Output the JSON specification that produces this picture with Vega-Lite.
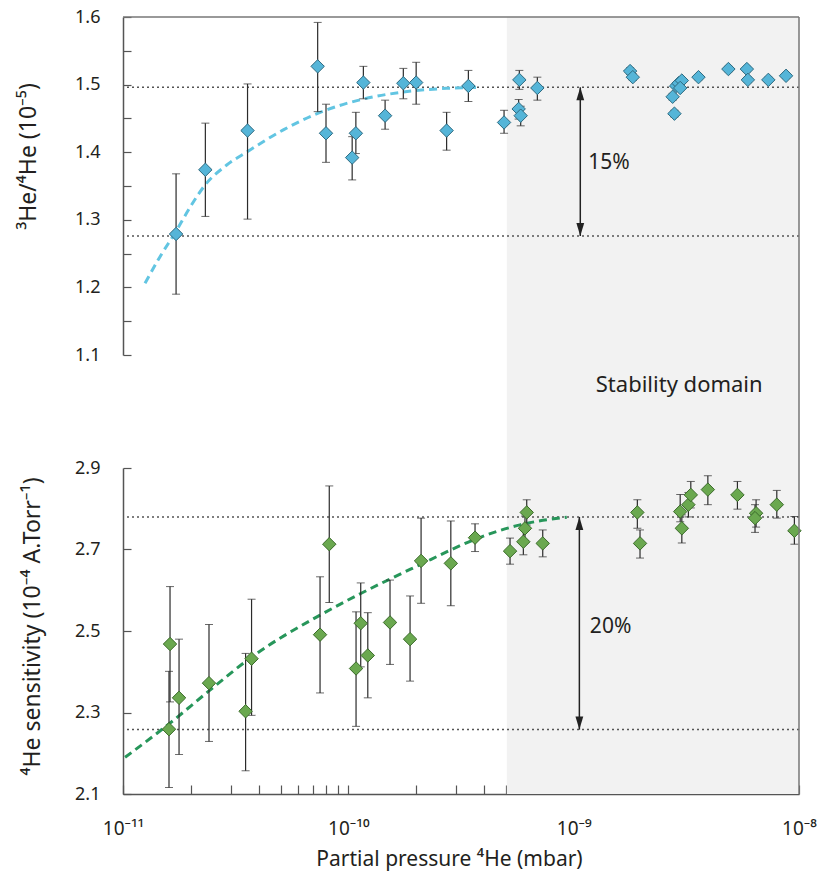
{
  "$schema": "https://vega.github.io/schema/vega-lite/v6.json",
  "width": 676,
  "height": 777,
  "autosize": "none",
  "padding": {"left": 123, "top": 17, "right": 28, "bottom": 93},
  "background": "white",
  "config": {
    "font": "Noto Sans",
    "view": {"stroke": null},
    "axis": {
      "grid": false,
      "labelFont": "Noto Sans",
      "titleFont": "Noto Sans",
      "labelColor": "#231f20",
      "titleColor": "#231f20",
      "titleFontWeight": "normal",
      "domainColor": "#555555",
      "tickColor": "#555555",
      "domainWidth": 1.5,
      "tickWidth": 1.2,
      "labelFontSize": 18,
      "titleFontSize": 23,
      "labelFlush": false,
      "labelOverlap": false
    }
  },
  "datasets": {
    "band": [{"from": 5.05e-10, "to": 1e-8}],
    "frameX": [{"p": 1e-8}],
    "frameY": [{"v": 1.6}],
    "topRef": [{"v": 1.496}, {"v": 1.276}],
    "botRef": [{"v": 2.78}, {"v": 2.258}],
    "topArrow": [{"p": 1.07e-9, "lo": 1.276, "hi": 1.496}],
    "botArrow": [{"p": 1.06e-9, "lo": 2.258, "hi": 2.78}],
    "topText": [{"p": 1.16e-9, "v": 1.384, "label": "15%"}, {"p": 2.94e-9, "v": 1.056, "label": "Stability domain"}],
    "botText": [{"p": 1.18e-9, "v": 2.509, "label": "20%"}],
    "topFit": [
      {"p": 1.252e-11, "v": 1.206}, {"p": 1.46e-11, "v": 1.2455}, {"p": 1.72e-11, "v": 1.283},
      {"p": 1.98e-11, "v": 1.318}, {"p": 2.32e-11, "v": 1.352}, {"p": 2.886e-11, "v": 1.381},
      {"p": 3.57e-11, "v": 1.401}, {"p": 5.145e-11, "v": 1.433}, {"p": 7.31e-11, "v": 1.4575},
      {"p": 1.166e-10, "v": 1.4787}, {"p": 1.754e-10, "v": 1.489}, {"p": 2.73e-10, "v": 1.4945},
      {"p": 3.84e-10, "v": 1.496}
    ],
    "botFit": [
      {"p": 1.021e-11, "v": 2.19}, {"p": 1.6e-11, "v": 2.272}, {"p": 2.408e-11, "v": 2.353},
      {"p": 3.72e-11, "v": 2.436}, {"p": 7.49e-11, "v": 2.539}, {"p": 1.135e-10, "v": 2.592},
      {"p": 1.531e-10, "v": 2.6275}, {"p": 2.103e-10, "v": 2.664}, {"p": 2.85e-10, "v": 2.699},
      {"p": 3.65e-10, "v": 2.725}, {"p": 5.78e-10, "v": 2.7604}, {"p": 9.32e-10, "v": 2.7794}
    ],
    "topPts": [
      {"p": 1.72e-11, "v": 1.279, "lo": 1.19, "hi": 1.368},
      {"p": 2.32e-11, "v": 1.374, "lo": 1.305, "hi": 1.443},
      {"p": 3.57e-11, "v": 1.432, "lo": 1.301, "hi": 1.501},
      {"p": 7.31e-11, "v": 1.527, "lo": 1.46, "hi": 1.592},
      {"p": 7.96e-11, "v": 1.428, "lo": 1.385, "hi": 1.471},
      {"p": 1.04e-10, "v": 1.392, "lo": 1.359, "hi": 1.423},
      {"p": 1.08e-10, "v": 1.428, "lo": 1.398, "hi": 1.459},
      {"p": 1.166e-10, "v": 1.503, "lo": 1.479, "hi": 1.527},
      {"p": 1.456e-10, "v": 1.454, "lo": 1.434, "hi": 1.477},
      {"p": 1.754e-10, "v": 1.502, "lo": 1.479, "hi": 1.524},
      {"p": 2.0e-10, "v": 1.503, "lo": 1.471, "hi": 1.533},
      {"p": 2.73e-10, "v": 1.432, "lo": 1.403, "hi": 1.459},
      {"p": 3.41e-10, "v": 1.498, "lo": 1.475, "hi": 1.521},
      {"p": 4.91e-10, "v": 1.444, "lo": 1.428, "hi": 1.462},
      {"p": 5.74e-10, "v": 1.507, "lo": 1.493, "hi": 1.521},
      {"p": 5.7e-10, "v": 1.464, "lo": 1.449, "hi": 1.478},
      {"p": 5.82e-10, "v": 1.454, "lo": 1.439, "hi": 1.468},
      {"p": 6.9e-10, "v": 1.495, "lo": 1.477, "hi": 1.511},
      {"p": 1.78e-9, "v": 1.52, "lo": 1.515, "hi": 1.525},
      {"p": 1.83e-9, "v": 1.511, "lo": 1.506, "hi": 1.516},
      {"p": 2.75e-9, "v": 1.482, "lo": 1.477, "hi": 1.487},
      {"p": 2.8e-9, "v": 1.457, "lo": 1.452, "hi": 1.462},
      {"p": 2.85e-9, "v": 1.498, "lo": 1.494, "hi": 1.502},
      {"p": 2.92e-9, "v": 1.502, "lo": 1.498, "hi": 1.506},
      {"p": 3.02e-9, "v": 1.506, "lo": 1.502, "hi": 1.51},
      {"p": 2.97e-9, "v": 1.495, "lo": 1.491, "hi": 1.499},
      {"p": 3.58e-9, "v": 1.511, "lo": 1.507, "hi": 1.515},
      {"p": 4.86e-9, "v": 1.523, "lo": 1.519, "hi": 1.527},
      {"p": 5.87e-9, "v": 1.523, "lo": 1.519, "hi": 1.527},
      {"p": 5.93e-9, "v": 1.507, "lo": 1.503, "hi": 1.511},
      {"p": 7.31e-9, "v": 1.507, "lo": 1.503, "hi": 1.511},
      {"p": 8.76e-9, "v": 1.513, "lo": 1.509, "hi": 1.517}
    ],
    "botPts": [
      {"p": 1.617e-11, "v": 2.468, "lo": 2.326, "hi": 2.609},
      {"p": 1.773e-11, "v": 2.336, "lo": 2.197, "hi": 2.48},
      {"p": 1.6e-11, "v": 2.259, "lo": 2.116, "hi": 2.401},
      {"p": 2.408e-11, "v": 2.372, "lo": 2.229, "hi": 2.516},
      {"p": 3.5e-11, "v": 2.303, "lo": 2.157, "hi": 2.445},
      {"p": 3.72e-11, "v": 2.432, "lo": 2.293, "hi": 2.578},
      {"p": 7.49e-11, "v": 2.491, "lo": 2.348, "hi": 2.633},
      {"p": 8.23e-11, "v": 2.713, "lo": 2.57, "hi": 2.856},
      {"p": 1.082e-10, "v": 2.408, "lo": 2.266, "hi": 2.547},
      {"p": 1.135e-10, "v": 2.519, "lo": 2.412, "hi": 2.618},
      {"p": 1.22e-10, "v": 2.44, "lo": 2.336, "hi": 2.545},
      {"p": 1.531e-10, "v": 2.521, "lo": 2.418, "hi": 2.625},
      {"p": 1.879e-10, "v": 2.48, "lo": 2.377, "hi": 2.586},
      {"p": 2.103e-10, "v": 2.672, "lo": 2.568, "hi": 2.777},
      {"p": 2.85e-10, "v": 2.666, "lo": 2.562, "hi": 2.77},
      {"p": 3.65e-10, "v": 2.729, "lo": 2.695, "hi": 2.763},
      {"p": 5.22e-10, "v": 2.696, "lo": 2.664, "hi": 2.728},
      {"p": 6.19e-10, "v": 2.791, "lo": 2.76, "hi": 2.822},
      {"p": 6.08e-10, "v": 2.752, "lo": 2.722, "hi": 2.782},
      {"p": 5.98e-10, "v": 2.719, "lo": 2.687, "hi": 2.75},
      {"p": 7.29e-10, "v": 2.715, "lo": 2.682, "hi": 2.748},
      {"p": 1.917e-9, "v": 2.791, "lo": 2.752, "hi": 2.822},
      {"p": 1.97e-9, "v": 2.715, "lo": 2.679, "hi": 2.748},
      {"p": 3.02e-9, "v": 2.752, "lo": 2.716, "hi": 2.785},
      {"p": 2.97e-9, "v": 2.793, "lo": 2.768, "hi": 2.835},
      {"p": 3.23e-9, "v": 2.81, "lo": 2.78, "hi": 2.84},
      {"p": 3.31e-9, "v": 2.834, "lo": 2.802, "hi": 2.867},
      {"p": 3.94e-9, "v": 2.847, "lo": 2.81, "hi": 2.881},
      {"p": 5.33e-9, "v": 2.834, "lo": 2.799, "hi": 2.867},
      {"p": 6.45e-9, "v": 2.789, "lo": 2.755, "hi": 2.822},
      {"p": 6.38e-9, "v": 2.777, "lo": 2.742, "hi": 2.81},
      {"p": 7.97e-9, "v": 2.81, "lo": 2.777, "hi": 2.845},
      {"p": 9.54e-9, "v": 2.746, "lo": 2.713, "hi": 2.781}
    ]
  },
  "layer": [
    {
      "data": {"name": "band"},
      "mark": {"type": "rect", "color": "#f2f2f2"},
      "encoding": {
        "x": {
          "field": "from", "type": "quantitative", "title": "Partial pressure ⁴He (mbar)",
          "scale": {"type": "log", "domain": [1e-11, 1e-8], "nice": false},
          "axis": {
            "orient": "bottom",
            "values": [1e-11, 2e-11, 3e-11, 4e-11, 5e-11, 6e-11, 7e-11, 8e-11, 9e-11, 1e-10, 2e-10, 3e-10, 4e-10, 5e-10, 6e-10, 7e-10, 8e-10, 9e-10, 1e-9, 2e-9, 3e-9, 4e-9, 5e-9, 6e-9, 7e-9, 8e-9, 9e-9, 1e-8],
            "labelExpr": "abs(log(datum.value)/LN10 - round(log(datum.value)/LN10)) < 0.01 ? (round(log(datum.value)/LN10) == -11 ? '10⁻¹¹' : round(log(datum.value)/LN10) == -10 ? '10⁻¹⁰' : round(log(datum.value)/LN10) == -9 ? '10⁻⁹' : '10⁻⁸') : ''",
            "tickSize": -9,
            "labelPadding": 34,
            "labelFontSize": 19,
            "title": "Partial pressure ⁴He (mbar)",
            "titleFontSize": 21,
            "titleX": 326,
            "titleY": 65,
            "titleBaseline": "middle",
            "titleAlign": "center"
          }
        },
        "x2": {"field": "to"}
      }
    },
    {
      "layer": [
        {
          "data": {"name": "topRef"},
          "mark": {"type": "rule", "color": "#555555", "strokeWidth": 1.5, "strokeDash": [2, 3]},
          "encoding": {
            "y": {"field": "v", "type": "quantitative", "title": "³He/⁴He (10⁻⁵)", "scale": {"domain": [1.1, 1.6], "range": [338, 0], "nice": false, "zero": false},
              "axis": {
                "orient": "left",
                "values": [1.1, 1.15, 1.2, 1.25, 1.3, 1.35, 1.4, 1.45, 1.5, 1.55, 1.6],
                "labelExpr": "round(datum.value*100) % 10 == 0 ? format(datum.value, '.1f') : ''",
                "tickSize": -8,
                "labelPadding": 31,
                "title": "³He/⁴He (10⁻⁵)",
                "titleX": -95,
                "titleY": 139,
                "titleAngle": -90,
                "titleBaseline": "middle",
                "titleAlign": "center"
              }
            }
          }
        },
        {
          "data": {"name": "frameY"},
          "mark": {"type": "rule", "color": "#777777", "strokeWidth": 1.5},
          "encoding": {"y": {"field": "v", "type": "quantitative", "title": "³He/⁴He (10⁻⁵)"}}
        },
        {
          "data": {"name": "topFit"},
          "mark": {"type": "line", "color": "#62c5e2", "strokeWidth": 3, "strokeDash": [8, 5], "interpolate": "monotone"},
          "encoding": {
            "x": {"field": "p", "type": "quantitative", "title": "Partial pressure ⁴He (mbar)"},
            "y": {"field": "v", "type": "quantitative", "title": "³He/⁴He (10⁻⁵)"}
          }
        },
        {
          "data": {"name": "topPts"},
          "mark": {"type": "errorbar", "ticks": {"size": 8, "color": "#2b2b2b", "strokeWidth": 1.2}, "rule": {"color": "#2b2b2b", "strokeWidth": 1.2}},
          "encoding": {
            "x": {"field": "p", "type": "quantitative", "title": "Partial pressure ⁴He (mbar)"},
            "y": {"field": "lo", "type": "quantitative", "title": "³He/⁴He (10⁻⁵)"},
            "y2": {"field": "hi"}
          }
        },
        {
          "data": {"name": "topPts"},
          "mark": {"type": "point", "shape": "diamond", "filled": true, "size": 180, "fill": "#55b5d8", "stroke": "#2e6a80", "strokeWidth": 1, "opacity": 1},
          "encoding": {
            "x": {"field": "p", "type": "quantitative", "title": "Partial pressure ⁴He (mbar)"},
            "y": {"field": "v", "type": "quantitative", "title": "³He/⁴He (10⁻⁵)"}
          }
        },
        {
          "data": {"name": "topArrow"},
          "mark": {"type": "rule", "color": "#222222", "strokeWidth": 1.5},
          "encoding": {
            "x": {"field": "p", "type": "quantitative", "title": "Partial pressure ⁴He (mbar)"},
            "y": {"field": "lo", "type": "quantitative", "title": "³He/⁴He (10⁻⁵)"},
            "y2": {"field": "hi"}
          }
        },
        {
          "data": {"name": "topArrow"},
          "mark": {"type": "point", "shape": "M0,0L-0.6,2L0.6,2Z", "filled": true, "size": 170, "color": "#222222", "opacity": 1},
          "encoding": {
            "x": {"field": "p", "type": "quantitative", "title": "Partial pressure ⁴He (mbar)"},
            "y": {"field": "hi", "type": "quantitative", "title": "³He/⁴He (10⁻⁵)"}
          }
        },
        {
          "data": {"name": "topArrow"},
          "mark": {"type": "point", "shape": "M0,0L-0.6,-2L0.6,-2Z", "filled": true, "size": 170, "color": "#222222", "opacity": 1},
          "encoding": {
            "x": {"field": "p", "type": "quantitative", "title": "Partial pressure ⁴He (mbar)"},
            "y": {"field": "lo", "type": "quantitative", "title": "³He/⁴He (10⁻⁵)"}
          }
        },
        {
          "data": {"name": "topText"},
          "transform": [{"filter": "datum.label == '15%'"}],
          "mark": {"type": "text", "align": "left", "baseline": "middle", "fontSize": 21, "color": "#231f20"},
          "encoding": {
            "x": {"field": "p", "type": "quantitative", "title": "Partial pressure ⁴He (mbar)"},
            "y": {"field": "v", "type": "quantitative", "title": "³He/⁴He (10⁻⁵)"},
            "text": {"field": "label"}
          }
        },
        {
          "data": {"name": "topText"},
          "transform": [{"filter": "datum.label != '15%'"}],
          "mark": {"type": "text", "align": "center", "baseline": "middle", "fontSize": 22, "color": "#231f20"},
          "encoding": {
            "x": {"field": "p", "type": "quantitative", "title": "Partial pressure ⁴He (mbar)"},
            "y": {"field": "v", "type": "quantitative", "title": "³He/⁴He (10⁻⁵)"},
            "text": {"field": "label"}
          }
        }
      ]
    },
    {
      "layer": [
        {
          "data": {"name": "botRef"},
          "mark": {"type": "rule", "color": "#555555", "strokeWidth": 1.5, "strokeDash": [2, 3]},
          "encoding": {
            "y": {"field": "v", "type": "quantitative", "title": "⁴He sensitivity (10⁻⁴ A.Torr⁻¹)", "scale": {"domain": [2.1, 2.9], "range": [777, 451], "nice": false, "zero": false},
              "axis": {
                "orient": "left",
                "values": [2.1, 2.3, 2.5, 2.7, 2.9],
                "format": ".1f",
                "tickSize": -8,
                "labelPadding": 31,
                "title": "⁴He sensitivity (10⁻⁴ A.Torr⁻¹)",
                "titleX": -91,
                "titleY": 609,
                "titleAngle": -90,
                "titleBaseline": "middle",
                "titleAlign": "center"
              }
            }
          }
        },
        {
          "data": {"name": "botFit"},
          "mark": {"type": "line", "color": "#27965a", "strokeWidth": 3, "strokeDash": [8, 5], "interpolate": "monotone"},
          "encoding": {
            "x": {"field": "p", "type": "quantitative", "title": "Partial pressure ⁴He (mbar)"},
            "y": {"field": "v", "type": "quantitative", "title": "⁴He sensitivity (10⁻⁴ A.Torr⁻¹)"}
          }
        },
        {
          "data": {"name": "botPts"},
          "mark": {"type": "errorbar", "ticks": {"size": 8, "color": "#2b2b2b", "strokeWidth": 1.2}, "rule": {"color": "#2b2b2b", "strokeWidth": 1.2}},
          "encoding": {
            "x": {"field": "p", "type": "quantitative", "title": "Partial pressure ⁴He (mbar)"},
            "y": {"field": "lo", "type": "quantitative", "title": "⁴He sensitivity (10⁻⁴ A.Torr⁻¹)"},
            "y2": {"field": "hi"}
          }
        },
        {
          "data": {"name": "botPts"},
          "mark": {"type": "point", "shape": "diamond", "filled": true, "size": 180, "fill": "#6aa84f", "stroke": "#3a6b2a", "strokeWidth": 1, "opacity": 1},
          "encoding": {
            "x": {"field": "p", "type": "quantitative", "title": "Partial pressure ⁴He (mbar)"},
            "y": {"field": "v", "type": "quantitative", "title": "⁴He sensitivity (10⁻⁴ A.Torr⁻¹)"}
          }
        },
        {
          "data": {"name": "botArrow"},
          "mark": {"type": "rule", "color": "#222222", "strokeWidth": 1.5},
          "encoding": {
            "x": {"field": "p", "type": "quantitative", "title": "Partial pressure ⁴He (mbar)"},
            "y": {"field": "lo", "type": "quantitative", "title": "⁴He sensitivity (10⁻⁴ A.Torr⁻¹)"},
            "y2": {"field": "hi"}
          }
        },
        {
          "data": {"name": "botArrow"},
          "mark": {"type": "point", "shape": "M0,0L-0.6,2L0.6,2Z", "filled": true, "size": 170, "color": "#222222", "opacity": 1},
          "encoding": {
            "x": {"field": "p", "type": "quantitative", "title": "Partial pressure ⁴He (mbar)"},
            "y": {"field": "hi", "type": "quantitative", "title": "⁴He sensitivity (10⁻⁴ A.Torr⁻¹)"}
          }
        },
        {
          "data": {"name": "botArrow"},
          "mark": {"type": "point", "shape": "M0,0L-0.6,-2L0.6,-2Z", "filled": true, "size": 170, "color": "#222222", "opacity": 1},
          "encoding": {
            "x": {"field": "p", "type": "quantitative", "title": "Partial pressure ⁴He (mbar)"},
            "y": {"field": "lo", "type": "quantitative", "title": "⁴He sensitivity (10⁻⁴ A.Torr⁻¹)"}
          }
        },
        {
          "data": {"name": "botText"},
          "mark": {"type": "text", "align": "left", "baseline": "middle", "fontSize": 21, "color": "#231f20"},
          "encoding": {
            "x": {"field": "p", "type": "quantitative", "title": "Partial pressure ⁴He (mbar)"},
            "y": {"field": "v", "type": "quantitative", "title": "⁴He sensitivity (10⁻⁴ A.Torr⁻¹)"},
            "text": {"field": "label"}
          }
        }
      ]
    },
    {
      "data": {"name": "frameX"},
      "mark": {"type": "rule", "color": "#777777", "strokeWidth": 1.5},
      "encoding": {"x": {"field": "p", "type": "quantitative", "title": "Partial pressure ⁴He (mbar)"}}
    }
  ],
  "resolve": {"scale": {"y": "independent"}, "axis": {"y": "independent"}}
}
